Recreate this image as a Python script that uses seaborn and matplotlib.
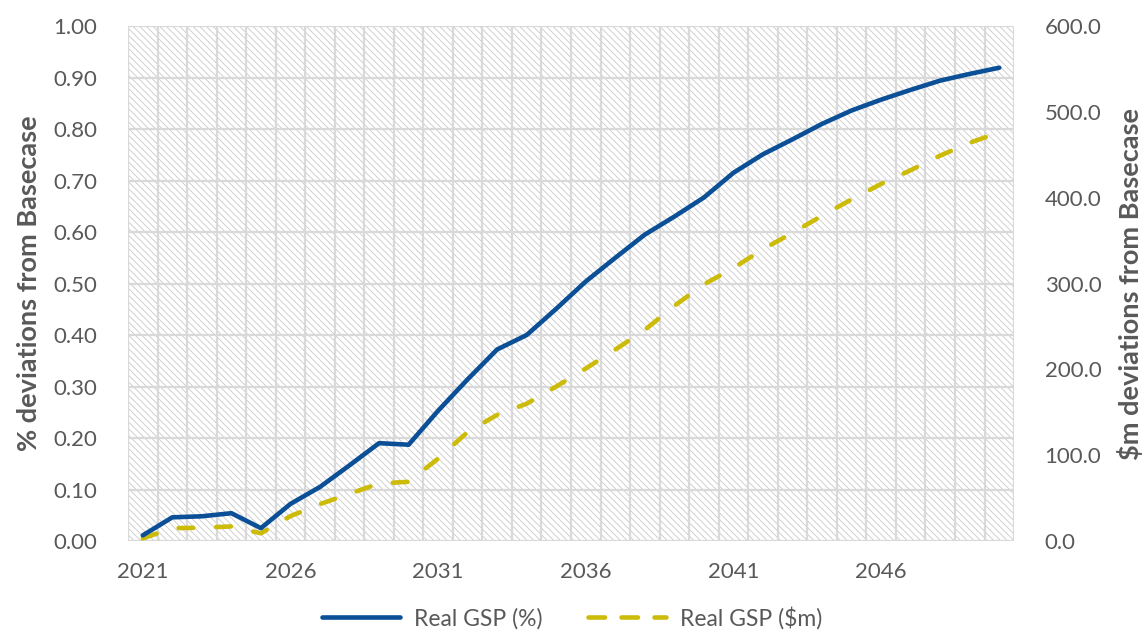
import matplotlib
matplotlib.use("Agg")
import matplotlib.pyplot as plt
import matplotlib.patches as mpatches
import matplotlib.ticker as mticker
from matplotlib.lines import Line2D
import numpy as np
import pandas as pd
import seaborn as sns

# Years on the category axis
years = list(range(2021, 2051))

# Real GSP, % deviation from basecase (left axis)
gsp_pct = [0.011, 0.046, 0.048, 0.054, 0.025, 0.072, 0.105, 0.147, 0.190, 0.187,
           0.253, 0.314, 0.372, 0.400, 0.451, 0.504, 0.550, 0.595, 0.630, 0.667,
           0.715, 0.751, 0.780, 0.810, 0.836, 0.857, 0.876, 0.894, 0.907, 0.919]

# Real GSP, $m deviation from basecase (right axis)
gsp_dollars = [3.0, 15.0, 15.5, 17.0, 9.0, 29.0, 43.0, 55.0, 67.0, 69.0,
               96.0, 127.0, 147.0, 160.0, 180.0, 201.0, 223.0, 246.0, 274.0, 299.0,
               318.0, 340.0, 359.0, 379.0, 398.0, 416.0, 432.0, 449.0, 464.0, 476.0]

x_tick_labels = [2021, 2026, 2031, 2036, 2041, 2046]
left_ticks = [round(0.1 * i, 1) for i in range(11)]
right_ticks = [100.0 * i for i in range(7)]

series_names = ["Real GSP (%)", "Real GSP (\\$m)"]

df = pd.DataFrame({"year": years, "pct": gsp_pct, "dollars": gsp_dollars})

BLUE = "#0B4F97"
GOLD = "#CDBB0A"
GRID = "#D9D9D9"
TEXT = "#595959"
LW = 3.3
GOLD_DASH = (3.2, 5.0)

sns.set_theme(style="white")
plt.rcParams["font.family"] = ["Lato", "DejaVu Sans"]
plt.rcParams["hatch.linewidth"] = 0.6

fig = plt.figure(figsize=(11.44, 6.42), dpi=100)
ax2 = fig.add_axes([0.1119, 0.1573, 0.7745, 0.8022])   # rear axes: $m scale
ax = ax2.twinx()                                        # front axes: % scale
ax.yaxis.tick_left()
ax.yaxis.set_label_position("left")
ax2.yaxis.tick_right()
ax2.yaxis.set_label_position("right")

# hatched plot-area background and gridlines live on the rear axes
ax2.set_facecolor("white")
ax2.add_patch(mpatches.Rectangle((0, 0), 1, 1, transform=ax2.transAxes,
                                 facecolor="white", edgecolor="#C9C9C9",
                                 hatch="\\" * 5, linewidth=0, zorder=0))
for edge in np.arange(2020.5, 2051.0, 1.0):
    ax2.axvline(edge, color=GRID, linewidth=1.6, zorder=1)
for v in left_ticks:
    ax2.axhline(v * 600, color=GRID, linewidth=1.6, zorder=1)

sns.lineplot(data=df, x="year", y="dollars", ax=ax2, color=GOLD, linewidth=LW,
             zorder=5, legend=False)
sns.lineplot(data=df, x="year", y="pct", ax=ax, color=BLUE, linewidth=LW,
             zorder=5, legend=False)
for ln in ax2.get_lines()[-1:]:
    ln.set_dashes(GOLD_DASH)
    ln.set_dash_capstyle("round")
for ln in ax.get_lines():
    ln.set_solid_capstyle("round")
    ln.set_solid_joinstyle("round")

ax.patch.set_visible(False)

ax2.set_xlim(2020.5, 2050.5)
ax.set_xlim(2020.5, 2050.5)
ax.set_ylim(0, 1.0)
ax2.set_ylim(0, 600)

ax2.set_xticks(x_tick_labels)
ax2.set_xticklabels([str(v) for v in x_tick_labels])
ax2.xaxis.set_minor_locator(mticker.FixedLocator(np.arange(2020.5, 2051.0, 1.0)))
ax.set_yticks(left_ticks)
ax.set_yticklabels([f"{v:.2f}" for v in left_ticks])
ax2.set_yticks(right_ticks)
ax2.set_yticklabels([f"{v:.1f}" for v in right_ticks])

ax.grid(False)
ax2.grid(False)
for a in (ax, ax2):
    for s in a.spines.values():
        s.set_visible(False)

ax2.tick_params(axis="x", which="major", length=0, pad=15, labelsize=16, labelcolor=TEXT)
ax2.tick_params(axis="x", which="minor", length=6, width=1.6, color=GRID)
ax.tick_params(axis="y", length=0, pad=22, labelsize=16, labelcolor=TEXT)
ax2.tick_params(axis="y", length=0, pad=22, labelsize=16, labelcolor=TEXT)

ax.set_xlabel("")
ax2.set_xlabel("")
ax.set_ylabel("% deviations from Basecase", fontsize=19.5, fontweight="bold",
              color=TEXT, labelpad=9)
ax2.set_ylabel("\\$m deviations from Basecase", fontsize=19.5, fontweight="bold",
               color=TEXT, labelpad=11, rotation=90)

handles = [Line2D([], [], color=BLUE, linewidth=LW, solid_capstyle="round"),
           Line2D([], [], color=GOLD, linewidth=LW, dashes=(3.6, 3.6),
                  dash_capstyle="round")]
fig.legend(handles, series_names, loc="lower center", bbox_to_anchor=(0.50, -0.012),
           ncol=2, frameon=False, fontsize=16.5, handlelength=3.4,
           columnspacing=2.0, handletextpad=0.6, labelcolor=TEXT)

fig.savefig("out.png", dpi=100)
